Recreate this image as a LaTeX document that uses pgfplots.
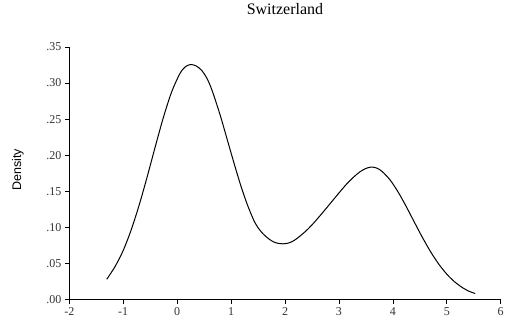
\documentclass[border=0pt]{standalone}
\usepackage{fontspec}
\setmainfont{Liberation Serif}
\setsansfont{Liberation Sans}
\usepackage{pgfplots}
\pgfplotsset{compat=1.18}

\begin{document}
\begin{tikzpicture}[x=1pt,y=1pt]
% fixed canvas around the axis box
\useasboundingbox (-69.3,-29.5) rectangle (441.7,299.5);
\begin{axis}[
  scale only axis,
  width=431.4pt, height=252.5pt,
  xmin=-2, xmax=6, ymin=0, ymax=0.35,
  axis x line*=bottom, axis y line*=left,
  axis line style={line width=0.8pt, -},
  tick align=outside,
  major tick length=4.5pt,
  tick style={line width=0.7pt, black},
  xtick={-2,-1,0,1,2,3,4,5,6},
  xticklabels={-2,-1,0,1,2,3,4,5,6},
  ytick={0,0.05,0.10,0.15,0.20,0.25,0.30,0.35},
  yticklabels={.00,.05,.10,.15,.20,.25,.30,.35},
  ticklabel style={font=\fontsize{12}{12}\selectfont, text=black!80},
  title={Switzerland},
  title style={at={(axis description cs:0.5,1)}, anchor=base, yshift=26pt,
    font=\fontsize{16}{16}\selectfont},
  ylabel={Density},
  ylabel style={at={(axis description cs:-0.119,0.513)}, anchor=center,
    font=\sffamily\fontsize{12.5}{12.5}\selectfont},
  clip=false,
]
% kernel density estimate
\addplot[black, line width=1pt, smooth, tension=0.5] coordinates {
  (-1.306,0.028) (-1.15,0.0459) (-1.0,0.068) (-0.85,0.097)
  (-0.7,0.132) (-0.55,0.1717) (-0.4,0.2135) (-0.25,0.2537)
  (-0.1,0.2881) (0.05,0.313) (0.15,0.3225) (0.25,0.3257)
  (0.35,0.3238) (0.45,0.318) (0.549,0.307) (0.642,0.291) (0.796,0.256)
  (0.92,0.224) (1.043,0.192) (1.167,0.161) (1.291,0.1336)
  (1.414,0.111) (1.5,0.0995) (1.6,0.0905) (1.7,0.0840)
  (1.785,0.0800) (1.87,0.0779) (1.96,0.0772) (2.05,0.0780)
  (2.13,0.0802) (2.219,0.0844) (2.38,0.0944) (2.527,0.1056)
  (2.68,0.1188) (2.837,0.1329) (3.0,0.1476) (3.146,0.1603)
  (3.27,0.1695) (3.39,0.177) (3.5,0.1816) (3.6,0.1836)
  (3.7,0.1822) (3.8,0.1775) (3.95,0.1656) (4.1,0.1487)
  (4.25,0.1286) (4.4,0.107) (4.55,0.0858) (4.7,0.0662)
  (4.85,0.0492) (5.0,0.0352) (5.15,0.0242) (5.3,0.016)
  (5.42,0.0112) (5.527,0.0083)
};
\end{axis}
\end{tikzpicture}
\end{document}
